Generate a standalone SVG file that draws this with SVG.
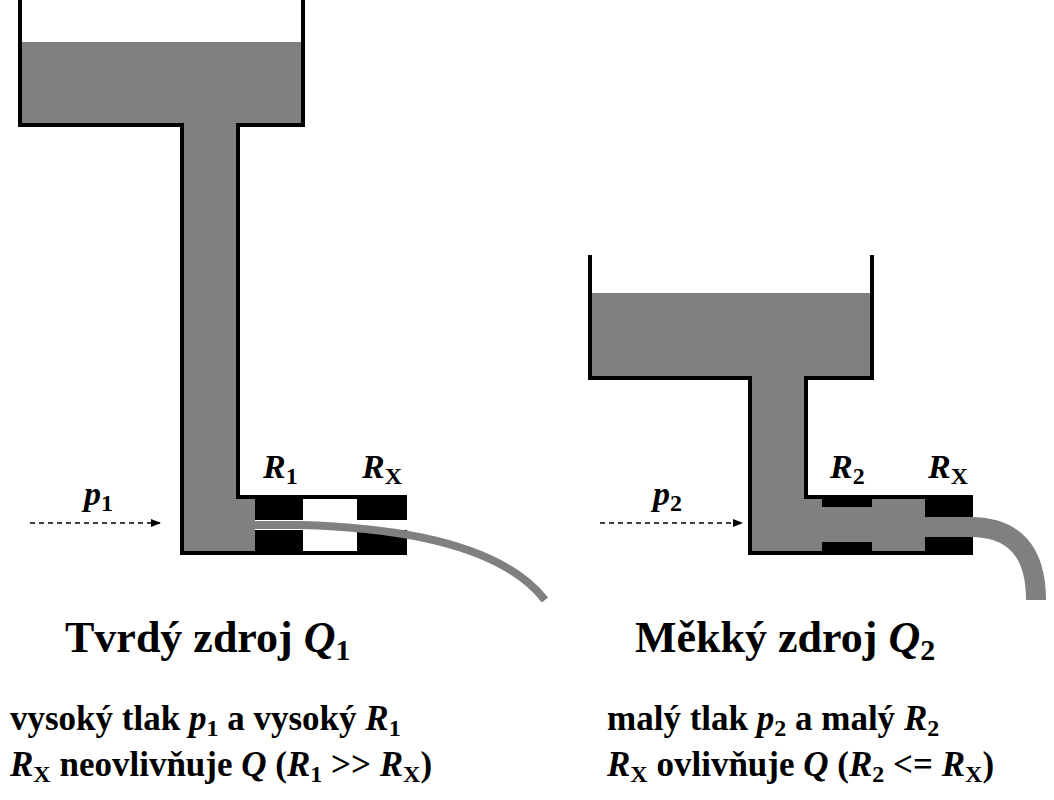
<svg xmlns="http://www.w3.org/2000/svg" width="1054" height="800" viewBox="0 0 1054 800">
<style>
.w{fill:#808080;stroke:none}
.e{fill:none;stroke:#000;stroke-width:4}
.b{fill:#000}
text{font-family:"Liberation Serif",serif;font-weight:bold;fill:#000}
.lab{font-size:34px}
.t{font-size:44px}
.s{font-size:35px}
.d{stroke:#000;stroke-width:1.5;stroke-dasharray:5,4;fill:none}
</style>
<defs><marker id="ah" markerWidth="10" markerHeight="8" refX="9" refY="4" orient="auto" markerUnits="userSpaceOnUse"><path d="M0,0L10,4L0,8z" fill="#000"/></marker></defs>
<g id="left">
<path class="w" d="M20,42H303V125H238V497H255V553H182V125H20z"/>
<path class="e" d="M20,0V125H182V553H407M407,497H238V125H303V0"/>
<rect class="b" x="255" y="497" width="48" height="23"/>
<rect class="b" x="255" y="530" width="48" height="23"/>
<rect class="b" x="357" y="497" width="50" height="23"/>
<rect class="b" x="357" y="530" width="50" height="23"/>
<path d="M255,525H300Q490,530 545,600" fill="none" stroke="#808080" stroke-width="8"/>
</g>
<g id="right">
<path class="w" d="M590,293H872V378H806V497H973V553H750V378H590z"/>
<path class="e" d="M590,255V378H750V553H973M973,497H806V378H872V255"/>
<rect class="b" x="822" y="497" width="50" height="10"/>
<rect class="b" x="822" y="542" width="50" height="11"/>
<rect class="b" x="925" y="497" width="48" height="20"/>
<rect class="b" x="925" y="537" width="48" height="16"/>
<path d="M970,527Q1036,527 1036,600" fill="none" stroke="#808080" stroke-width="20"/>
</g>
<g id="connectors">
<line class="d" x1="30" y1="523" x2="160" y2="523" marker-end="url(#ah)"/>
<line class="d" x1="600" y1="523" x2="742" y2="523" marker-end="url(#ah)"/>
</g>
<g id="labels">
<text class="lab" x="84" y="505" font-style="italic">p<tspan font-size="24" dy="6" font-style="normal">1</tspan></text>
<text class="lab" x="263" y="478" font-style="italic">R<tspan font-size="24" dy="6" font-style="normal">1</tspan></text>
<text class="lab" x="362" y="478" font-style="italic">R<tspan font-size="24" dy="6" font-style="normal">X</tspan></text>
<text class="lab" x="653" y="505" font-style="italic">p<tspan font-size="24" dy="6" font-style="normal">2</tspan></text>
<text class="lab" x="830" y="478" font-style="italic">R<tspan font-size="24" dy="6" font-style="normal">2</tspan></text>
<text class="lab" x="928" y="478" font-style="italic">R<tspan font-size="24" dy="6" font-style="normal">X</tspan></text>
<text class="t" x="65" y="652">Tvrdý zdroj <tspan font-style="italic">Q</tspan><tspan font-size="30" dy="8">1</tspan></text>
<text class="t" x="635" y="652">Měkký zdroj <tspan font-style="italic">Q</tspan><tspan font-size="30" dy="8">2</tspan></text>
<text class="s" x="10" y="730">vysoký tlak <tspan font-style="italic">p</tspan><tspan font-size="24" dy="6">1</tspan><tspan dy="-6"> a vysoký </tspan><tspan font-style="italic">R</tspan><tspan font-size="24" dy="6">1</tspan></text>
<text class="s" x="10" y="776"><tspan font-style="italic">R</tspan><tspan font-size="24" dy="6">X</tspan><tspan dy="-6"> neovlivňuje </tspan><tspan font-style="italic">Q</tspan> (<tspan font-style="italic">R</tspan><tspan font-size="24" dy="6">1</tspan><tspan dy="-6"> &gt;&gt; </tspan><tspan font-style="italic">R</tspan><tspan font-size="24" dy="6">X</tspan><tspan dy="-6">)</tspan></text>
<text class="s" x="607" y="730">malý tlak <tspan font-style="italic">p</tspan><tspan font-size="24" dy="6">2</tspan><tspan dy="-6"> a malý </tspan><tspan font-style="italic">R</tspan><tspan font-size="24" dy="6">2</tspan></text>
<text class="s" x="607" y="776"><tspan font-style="italic">R</tspan><tspan font-size="24" dy="6">X</tspan><tspan dy="-6"> ovlivňuje </tspan><tspan font-style="italic">Q</tspan> (<tspan font-style="italic">R</tspan><tspan font-size="24" dy="6">2</tspan><tspan dy="-6"> &lt;= </tspan><tspan font-style="italic">R</tspan><tspan font-size="24" dy="6">X</tspan><tspan dy="-6">)</tspan></text>
</g>
</svg>
